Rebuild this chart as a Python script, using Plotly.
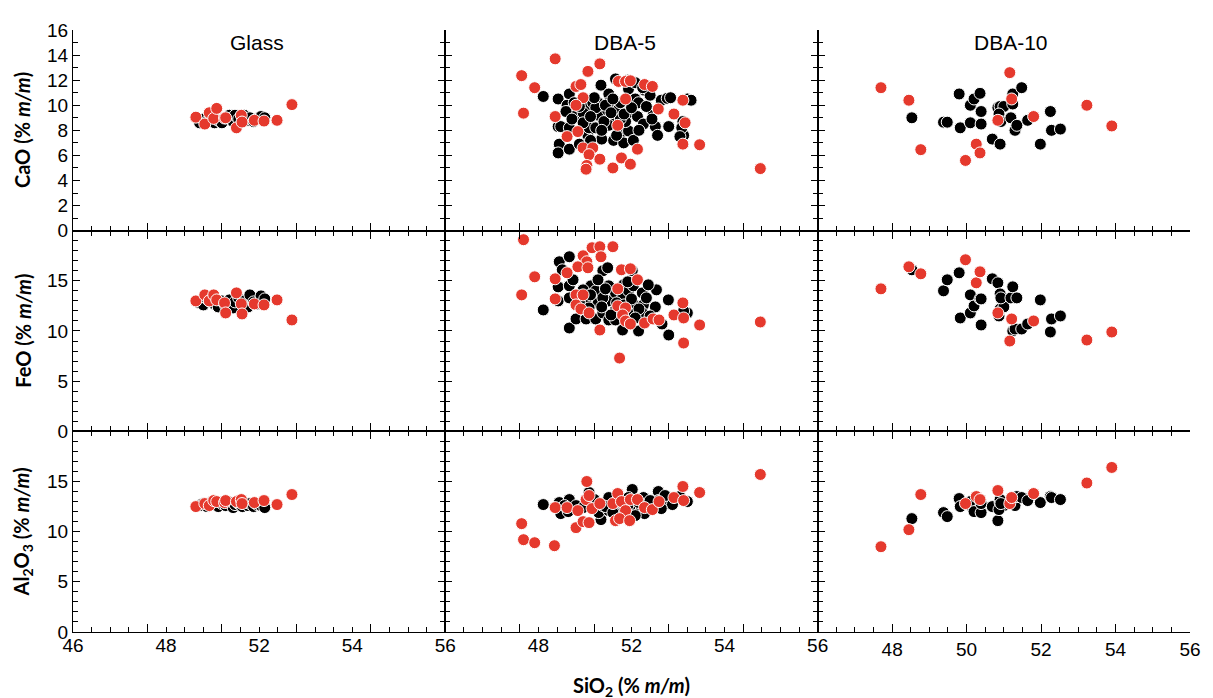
import plotly.graph_objects as go

# ---------------- data ----------------
# Glass (shared SiO2 per point)
glass_black_sio2 = [49.40, 49.50, 49.60, 49.70, 49.80, 49.90, 50.00, 50.10, 50.20, 50.30,
                    50.35, 50.45, 50.55, 50.60, 50.70, 50.75, 50.85, 50.95, 51.05, 51.15]
glass_black_cao = [8.6, 8.9, 8.7, 9.1, 8.6, 8.8, 8.6, 9.0, 9.2, 8.7, 9.2, 8.9, 9.1, 9.2, 8.8, 9.0, 8.7, 8.9, 9.1, 9.0]
glass_black_feo = [12.8, 12.6, 13.2, 12.9, 12.7, 12.4, 13.0, 12.5, 13.1, 12.3, 12.9, 13.3, 12.6, 13.0, 12.4, 13.6, 12.9, 12.7, 13.5, 13.2]
glass_black_al = [12.6, 12.8, 12.5, 12.9, 12.7, 12.5, 12.8, 12.6, 12.9, 12.4, 12.7, 12.8, 12.5, 12.9, 12.6, 12.8, 12.5, 12.7, 12.6, 12.4]

glass_red_sio2 = [49.30, 49.54, 49.66, 49.78, 49.86, 50.07, 50.10, 50.39, 50.52, 50.54, 50.87, 51.13, 51.48, 51.88]
glass_red_cao = [9.05, 8.5, 9.4, 8.95, 9.75, 8.98, 9.0, 8.2, 9.2, 8.66, 8.8, 8.74, 8.8, 10.05]
glass_red_feo = [13.0, 13.6, 13.0, 13.6, 13.1, 12.8, 11.8, 13.8, 12.7, 11.7, 12.7, 12.6, 13.1, 11.1]
glass_red_al = [12.5, 12.8, 12.6, 13.1, 13.0, 12.9, 13.1, 13.0, 13.2, 12.8, 12.9, 13.1, 12.7, 13.7]

# DBA-5 (per-panel x/y)
dba5_cao_black_x = [48.63, 49.03, 49.03, 49.10, 49.06, 49.03, 49.33, 49.33, 49.27, 49.33, 49.51, 49.33, 49.60,
                    49.78, 49.86, 49.96, 50.10, 50.18, 49.83, 49.86, 50.04, 50.20, 50.12, 50.36, 50.39, 50.50,
                    50.39, 50.57, 50.63, 50.52, 50.76, 50.79, 50.92, 50.92, 50.92, 51.10, 51.19, 51.16, 51.05,
                    51.32, 51.35, 51.64, 51.70, 51.80, 51.96, 51.58, 52.38, 49.46, 49.70, 50.39, 50.70, 50.84,
                    50.26, 50.04, 49.70, 49.24, 49.60, 49.90, 50.00, 50.30, 50.50, 50.70, 50.80, 51.00, 51.20,
                    51.40, 51.50, 49.40, 50.20, 50.60, 51.10, 51.30, 50.90, 49.90, 50.45, 51.55, 52.00, 52.50,
                    52.60, 52.40, 52.05, 52.35, 52.30]
dba5_cao_black_y = [10.7, 10.5, 8.3, 8.3, 6.9, 6.2, 10.9, 6.5, 10.0, 9.5, 9.2, 8.2, 6.9,
                    9.8, 8.8, 10.2, 10.2, 11.6, 7.6, 8.2, 8.2, 7.3, 9.2, 9.6, 10.9, 9.1,
                    8.4, 12.1, 9.6, 7.2, 7.9, 7.0, 11.3, 9.4, 7.95, 10.5, 10.2, 9.1, 7.2,
                    8.5, 11.2, 8.3, 7.6, 10.4, 10.55, 9.5, 8.7, 10.2, 9.4, 10.2, 10.2, 8.7,
                    8.7, 9.8, 8.6, 9.5, 9.9, 9.1, 10.6, 10.0, 10.5, 8.9, 9.3, 9.8, 8.0,
                    9.9, 10.8, 8.9, 8.0, 7.6, 11.8, 11.4, 12.0, 7.2, 9.4, 8.9, 8.3, 10.5,
                    10.4, 7.6, 10.6, 8.2, 7.5]
dba5_cao_red_x = [48.05, 48.10, 48.40, 48.95, 48.95, 49.27, 49.51, 49.64, 49.70, 49.51, 49.56, 49.70, 49.96,
                  49.86, 49.80, 49.78, 49.83, 50.15, 50.15, 50.50, 50.63, 50.73, 50.65, 50.84, 50.97, 50.84,
                  50.97, 51.16, 51.35, 51.56, 51.72, 52.14, 52.38, 52.44, 52.38, 52.83, 54.46]
dba5_cao_red_y = [12.36, 9.37, 11.4, 13.7, 9.1, 7.5, 11.5, 11.65, 10.6, 10.0, 7.9, 6.6, 6.6,
                  6.06, 5.2, 4.9, 12.7, 13.3, 5.7, 5.0, 8.4, 5.8, 11.9, 11.9, 11.95, 10.5,
                  5.3, 6.5, 11.65, 11.5, 9.7, 9.3, 10.4, 8.6, 6.9, 6.85, 4.95]

dba5_feo_black_x = [48.63, 49.06, 49.33, 49.03, 49.03, 49.14, 49.33, 49.43, 49.33, 49.33, 49.51, 49.78, 49.91,
                    50.04, 50.23, 50.36, 50.10, 50.10, 50.04, 50.23, 50.39, 50.39, 50.39, 50.57, 50.57, 50.79,
                    50.76, 50.76, 50.92, 51.05, 51.02, 51.08, 51.19, 51.29, 51.32, 51.29, 51.64, 51.67, 51.82,
                    51.99, 52.00, 49.78, 49.70, 50.23, 49.86, 50.57, 50.92, 52.50, 52.40, 49.90, 50.30, 50.60,
                    50.80, 51.00, 51.20, 51.40, 51.50, 50.20, 50.45, 49.60, 51.10, 50.90, 51.45]
dba5_feo_black_y = [12.1, 16.9, 17.4, 14.4, 13.0, 16.1, 14.5, 15.1, 13.3, 10.3, 11.2, 11.2, 14.5,
                    14.0, 16.0, 16.3, 15.1, 12.8, 11.2, 11.8, 14.5, 13.0, 11.1, 13.8, 11.1, 14.6,
                    13.3, 10.1, 14.0, 14.5, 16.0, 12.6, 10.0, 13.8, 12.6, 11.8, 12.4, 14.1, 10.7,
                    13.1, 9.6, 13.1, 14.1, 13.3, 12.3, 12.1, 11.8, 11.8, 12.0, 13.6, 14.2, 12.8,
                    12.6, 13.2, 12.2, 13.3, 11.5, 12.4, 11.6, 12.9, 11.3, 14.9, 14.6]
dba5_feo_red_x = [48.10, 48.40, 48.05, 48.95, 48.95, 49.27, 49.51, 49.51, 49.70, 49.80, 49.56, 49.83, 49.70,
                  49.64, 49.86, 49.94, 50.15, 50.18, 50.50, 50.15, 50.63, 50.63, 50.73, 50.97, 50.84, 50.76,
                  50.84, 50.97, 50.68, 51.16, 51.35, 51.58, 51.74, 52.14, 52.38, 52.40, 52.40, 52.83, 54.46]
dba5_feo_red_y = [19.1, 15.4, 13.6, 15.2, 13.2, 15.8, 13.6, 12.6, 17.5, 16.9, 16.4, 16.3, 13.6,
                  12.2, 11.8, 18.3, 18.4, 17.4, 18.4, 10.1, 14.2, 12.5, 16.1, 16.2, 12.3, 11.6,
                  11.0, 10.7, 7.3, 15.1, 10.8, 11.2, 11.1, 11.6, 12.8, 11.3, 8.8, 10.6, 10.9]

dba5_al_black_x = [48.63, 49.06, 49.10, 49.33, 49.51, 49.86, 50.04, 50.18, 50.12, 50.39, 50.39, 50.63, 50.76,
                   51.02, 50.92, 51.08, 51.32, 51.35, 51.64, 51.72, 51.72, 51.99, 49.83, 50.23, 50.57, 50.97,
                   49.30, 49.70, 50.00, 50.30, 50.60, 50.90, 51.20, 51.50, 51.90, 52.10, 52.30, 52.50, 49.20,
                   50.50, 51.10, 51.80]
dba5_al_black_y = [12.7, 12.9, 11.8, 13.2, 12.6, 13.9, 12.9, 11.2, 11.9, 13.4, 12.1, 12.1, 12.9,
                   14.2, 13.4, 12.1, 13.4, 11.8, 12.5, 14.0, 13.1, 12.8, 12.9, 12.6, 12.8, 12.6,
                   12.0, 12.4, 13.2, 12.5, 13.0, 12.6, 12.9, 13.1, 13.6, 12.7, 13.5, 13.0, 12.6,
                   11.9, 11.6, 12.3]
dba5_al_red_x = [48.05, 48.10, 48.40, 48.93, 48.95, 49.27, 49.51, 49.56, 49.70, 49.86, 49.80, 49.78, 49.86,
                 49.94, 50.15, 50.50, 50.63, 50.73, 50.84, 50.57, 50.68, 50.95, 50.97, 51.16, 51.35, 51.56,
                 51.74, 52.14, 52.38, 52.40, 52.83, 54.46]
dba5_al_red_y = [10.8, 9.2, 8.9, 8.6, 12.4, 12.4, 10.4, 12.1, 11.0, 10.9, 15.0, 13.2, 13.6,
                 12.3, 12.8, 12.8, 13.8, 13.0, 12.1, 11.1, 11.3, 11.1, 13.2, 13.2, 12.4, 12.2,
                 13.0, 13.4, 14.5, 13.1, 13.9, 15.7]

# DBA-10 (shared SiO2 per point)
dba10_black_sio2 = [48.53, 49.38, 49.48, 49.80, 49.83, 50.10, 50.10, 50.20, 50.36, 50.39, 50.39, 50.69, 50.84,
                    50.90, 50.90, 51.00, 50.87, 50.92, 51.19, 51.24, 51.24, 51.30, 51.35, 51.48, 51.64, 51.98,
                    52.25, 52.28, 52.52]
dba10_black_cao = [9.0, 8.65, 8.65, 10.9, 8.2, 10.0, 8.6, 10.5, 10.95, 9.5, 8.5, 7.3, 9.8,
                   6.9, 9.9, 9.9, 9.3, 8.7, 9.0, 10.9, 10.1, 8.0, 8.4, 11.4, 8.8, 6.9,
                   9.5, 8.0, 8.1]
dba10_black_feo = [16.1, 14.0, 15.1, 15.8, 11.3, 13.6, 11.8, 12.5, 13.2, 10.6, 13.2, 15.2, 14.8,
                   13.7, 12.2, 12.4, 11.5, 13.3, 13.3, 14.4, 10.0, 10.2, 13.3, 10.2, 10.7, 13.1,
                   9.9, 11.2, 11.5]
dba10_black_al = [11.3, 11.9, 11.5, 13.3, 12.5, 12.6, 13.0, 12.0, 13.2, 11.9, 12.8, 12.5, 11.1,
                  12.9, 13.2, 12.6, 12.2, 12.8, 13.0, 12.7, 13.3, 12.6, 13.5, 13.4, 13.1, 12.9,
                  13.5, 13.4, 13.2]
dba10_red_sio2 = [47.70, 48.45, 48.77, 49.97, 50.26, 50.36, 50.84, 51.16, 51.21, 51.80, 53.23, 53.90]
dba10_red_cao = [11.4, 10.4, 6.46, 5.6, 6.9, 6.2, 8.8, 12.6, 10.5, 9.1, 10.0, 8.35]
dba10_red_feo = [14.2, 16.4, 15.7, 17.1, 14.8, 15.9, 11.8, 9.0, 11.2, 11.0, 9.1, 9.9]
dba10_red_al = [8.5, 10.2, 13.7, 12.8, 13.5, 13.2, 14.1, 12.8, 13.4, 13.8, 14.85, 16.4]

panel_titles = ["Glass", "DBA-5", "DBA-10"]
y_titles = ["<b>CaO (% <i>m/m</i>)</b>", "<b>FeO (% <i>m/m</i>)</b>", "<b>Al<sub>2</sub>O<sub>3</sub> (% <i>m/m</i>)</b>"]
x_title = "<b>SiO<sub>2</sub> (% <i>m/m</i>)</b>"
# x tick labels as printed under each column
col_label_vals = [[46, 48.5, 51, 53.5, 56], [48.5, 51, 53.5, 56], [48, 50, 52, 54, 56]]
col_label_text = [["46", "48", "52", "54", "56"], ["48", "52", "54", "56"], ["48", "50", "52", "54", "56"]]

BLACK = "#000000"
RED = "#e5392d"

panels = {
    (0, 0): ((glass_black_sio2, glass_black_cao), (glass_red_sio2, glass_red_cao)),
    (1, 0): ((glass_black_sio2, glass_black_feo), (glass_red_sio2, glass_red_feo)),
    (2, 0): ((glass_black_sio2, glass_black_al), (glass_red_sio2, glass_red_al)),
    (0, 1): ((dba5_cao_black_x, dba5_cao_black_y), (dba5_cao_red_x, dba5_cao_red_y)),
    (1, 1): ((dba5_feo_black_x, dba5_feo_black_y), (dba5_feo_red_x, dba5_feo_red_y)),
    (2, 1): ((dba5_al_black_x, dba5_al_black_y), (dba5_al_red_x, dba5_al_red_y)),
    (0, 2): ((dba10_black_sio2, dba10_black_cao), (dba10_red_sio2, dba10_red_cao)),
    (1, 2): ((dba10_black_sio2, dba10_black_feo), (dba10_red_sio2, dba10_red_feo)),
    (2, 2): ((dba10_black_sio2, dba10_black_al), (dba10_red_sio2, dba10_red_al)),
}

fig = go.Figure()
TICKFONT = dict(family="Liberation Sans, Arial, sans-serif", size=19, color="black")
LINEW = 1.3
layout = {}

for r in range(3):
    for c in range(3):
        i = r * 3 + c + 1
        xa = "x" if i == 1 else f"x{i}"
        ya = "y" if i == 1 else f"y{i}"
        (bx, by), (rx, ry) = panels[(r, c)]
        for xs, ys, col in ((bx, by, BLACK), (rx, ry, RED)):
            fig.add_trace(go.Scatter(
                x=xs, y=ys, mode="markers", xaxis=xa, yaxis=ya, showlegend=False,
                marker=dict(size=12, color=col, line=dict(color="white", width=1)),
                hoverinfo="skip"))
        xdom = [c / 3, (c + 1) / 3]
        ydom = [(2 - r) / 3, (3 - r) / 3]
        xkey = "xaxis" if i == 1 else f"xaxis{i}"
        ykey = "yaxis" if i == 1 else f"yaxis{i}"
        bottom = (r == 2)
        xtv = [46, 48, 50, 52, 54, 56]
        layout[xkey] = dict(
            domain=xdom, anchor=ya, range=[46, 56], showgrid=False, zeroline=False,
            showline=True, linecolor="black", linewidth=LINEW,
            mirror=("ticks" if r > 0 else False),
            ticks="inside", ticklen=8, tickwidth=LINEW, tickcolor="black",
            tickmode="array", tickvals=xtv,
            ticktext=(["", "48", "50", "52", "54", "56"] if (bottom and c == 2) else [" "] * 6),
            showticklabels=(bottom and c == 2), tickfont=TICKFONT,
            minor=dict(ticks="inside", ticklen=5, tickwidth=LINEW, tickcolor="black", tick0=46, dtick=0.5),
        )
        if r == 0:
            ytv = [0, 2, 4, 6, 8, 10, 12, 14, 16]
            yrange = [0, 16]
        else:
            ytv = [0, 5, 10, 15]
            yrange = [0, 20]
        layout[ykey] = dict(
            domain=ydom, anchor=xa, range=yrange, showgrid=False, zeroline=False,
            showline=True, linecolor="black", linewidth=LINEW,
            mirror=("ticks" if c < 2 else False),
            ticks="inside", ticklen=7, tickwidth=LINEW, tickcolor="black",
            tickmode="array", tickvals=ytv, ticktext=[str(v) for v in ytv],
            showticklabels=(c == 0), tickfont=TICKFONT,
            minor=dict(ticks="inside", ticklen=5, tickwidth=LINEW, tickcolor="black", tick0=0, dtick=1),
        )

# overlay axes carrying the printed x labels of the first two columns
for c in range(2):
    i = 10 + c
    base = 7 + c
    layout[f"xaxis{i}"] = dict(
        domain=[c / 3, (c + 1) / 3], anchor=f"y{base}", overlaying=f"x{base}", side="bottom",
        range=[46, 56], showgrid=False, zeroline=False, showline=False, ticks="",
        tickmode="array", tickvals=col_label_vals[c], ticktext=col_label_text[c],
        showticklabels=True, tickfont=TICKFONT)
    fig.add_trace(go.Scatter(x=[None], y=[None], xaxis=f"x{i}", yaxis=f"y{base}",
                             mode="markers", showlegend=False, hoverinfo="skip"))

annotations = []
title_x = [0.165, 0.494, 0.840]
for c, t in enumerate(panel_titles):
    annotations.append(dict(text=t, xref="paper", yref="paper", x=title_x[c], y=0.979,
                            xanchor="center", yanchor="middle", showarrow=False,
                            font=dict(family="Liberation Sans, Arial, sans-serif", size=21, color="black")))
for r, t in enumerate(y_titles):
    annotations.append(dict(text=t, xref="paper", yref="paper", x=-0.045, y=(2.5 - r) / 3,
                            xanchor="center", yanchor="middle", textangle=-90, showarrow=False,
                            font=dict(family="Lato, Noto Sans, sans-serif", size=20, color="black")))
annotations.append(dict(text=x_title, xref="paper", yref="paper", x=0.4996, y=-0.090,
                        xanchor="center", yanchor="middle", showarrow=False,
                        font=dict(family="Lato, Noto Sans, sans-serif", size=20, color="black")))

# the page adds an 8px body margin; size the figure so it fits the 1213x698 window
fig.update_layout(
    width=1205, height=690,
    margin=dict(l=65, r=13, t=16, b=66),
    paper_bgcolor="white", plot_bgcolor="white",
    annotations=annotations, showlegend=False,
    **layout)

fig.write_html("out.html")
